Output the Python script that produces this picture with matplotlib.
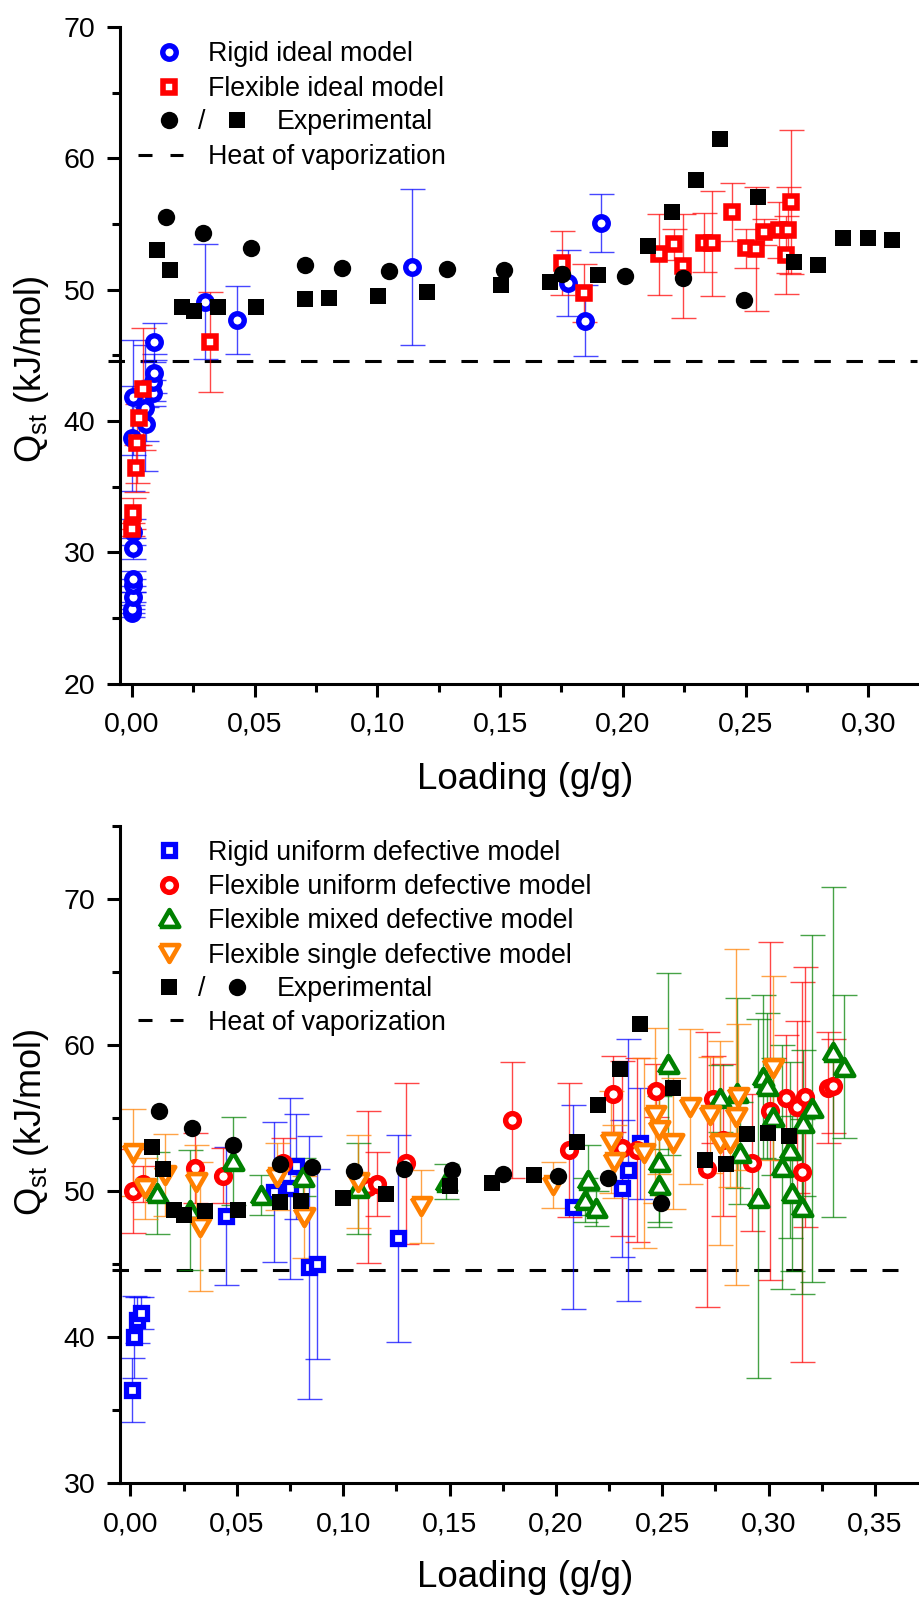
import matplotlib
matplotlib.use('Agg')
import matplotlib.pyplot as plt
from matplotlib.ticker import MultipleLocator, FuncFormatter

plt.rcParams['font.family'] = ['Liberation Sans', 'DejaVu Sans']
plt.rcParams['mathtext.fontset'] = 'custom'
plt.rcParams['mathtext.rm'] = 'Liberation Sans'

# ---------------- data ----------------
heat_vap = 44.6

exp_circle_x = [0.0137, 0.0290, 0.0484, 0.0703, 0.0854, 0.1049, 0.1284, 0.1514, 0.1752, 0.2010, 0.2245, 0.2495]
exp_circle_y = [55.50, 54.35, 53.17, 51.87, 51.69, 51.40, 51.54, 51.47, 51.20, 51.07, 50.91, 49.20]
exp_square_x = [0.0103, 0.0155, 0.0205, 0.0254, 0.0352, 0.0505, 0.0703, 0.0802, 0.1001, 0.1201, 0.1502, 0.1702,
                0.1899, 0.2101, 0.2199, 0.2299, 0.2397, 0.2550, 0.2699, 0.2797, 0.2898, 0.2999, 0.3097]
exp_square_y = [53.05, 51.50, 48.72, 48.38, 48.67, 48.72, 49.27, 49.34, 49.52, 49.79, 50.38, 50.58,
                51.10, 53.35, 55.89, 58.35, 61.45, 57.08, 52.13, 51.88, 53.91, 53.96, 53.78]

# top panel
rigid_ideal_x = [0.0001, 0.0001, 0.0002, 0.0002, 0.0002, 0.0004, 0.0005, 0.0001, 0.0005, 0.0053, 0.0057,
                 0.0084, 0.0087, 0.0091, 0.0091, 0.0297, 0.0427, 0.1141, 0.1776, 0.1846, 0.1909]
rigid_ideal_y = [25.35, 25.70, 26.60, 27.50, 28.00, 30.30, 31.57, 38.68, 41.80, 40.97, 39.80,
                 42.16, 43.00, 43.63, 46.04, 49.10, 47.70, 51.75, 50.49, 47.64, 55.06]
rigid_ideal_err = [0.3, 0.3, 0.4, 0.5, 0.6, 0.8, 1.0, 4.0, 4.4, 4.8, 1.3,
                   1.0, 1.5, 1.5, 1.4, 4.4, 2.6, 5.95, 2.5, 2.7, 2.2]

flex_ideal_x = [0.0001, 0.0005, 0.0014, 0.0019, 0.0030, 0.0044, 0.0318, 0.1752, 0.1843, 0.2147, 0.2210,
                0.2245, 0.2330, 0.2365, 0.2446, 0.2501, 0.2544, 0.2575, 0.2638, 0.2663, 0.2673, 0.2687]
flex_ideal_y = [31.75, 32.97, 36.40, 38.30, 40.20, 42.41, 46.04, 52.01, 49.77, 52.69, 53.46,
                51.83, 53.58, 53.53, 55.94, 53.15, 53.10, 54.42, 54.55, 52.64, 54.55, 56.70]
flex_ideal_err = [0.5, 1.2, 1.8, 3.0, 2.0, 4.65, 3.8, 2.45, 2.2, 3.1, 1.2,
                  3.95, 2.25, 4.0, 2.2, 1.5, 4.7, 1.0, 2.1, 3.0, 3.3, 5.5]

# bottom panel
rigid_unif_x = [0.0008, 0.0016, 0.0030, 0.0049, 0.0450, 0.0674, 0.0750, 0.0780, 0.0842, 0.0877,
                0.1260, 0.2082, 0.2309, 0.2340, 0.2395]
rigid_unif_y = [36.39, 40.00, 41.18, 41.69, 48.31, 49.97, 50.20, 51.70, 44.80, 45.00,
                46.78, 48.94, 50.20, 51.46, 53.30]
rigid_unif_err = [2.2, 2.8, 1.6, 1.1, 4.7, 4.8, 6.2, 3.6, 9.0, 6.5,
                  7.1, 7.0, 4.7, 9.0, 3.8]

flex_unif_x = [0.0011, 0.0058, 0.0304, 0.0434, 0.0716, 0.1119, 0.1161, 0.1296, 0.1792, 0.2062, 0.2267,
               0.2309, 0.2380, 0.2470, 0.2709, 0.2740, 0.2784, 0.2920, 0.3006, 0.3081, 0.3131, 0.3155,
               0.3170, 0.3280, 0.3304]
flex_unif_y = [50.02, 50.50, 51.57, 51.07, 51.92, 50.30, 50.48, 51.92, 54.88, 52.83, 56.64,
               52.95, 52.83, 56.89, 51.50, 56.30, 53.50, 51.96, 55.50, 56.41, 55.75, 51.34,
               56.44, 57.10, 57.20]
flex_unif_err = [2.9, 1.2, 2.4, 1.9, 1.7, 5.2, 2.2, 5.5, 4.0, 4.6, 2.6,
                 6.0, 6.3, 1.8, 9.4, 3.0, 5.2, 4.7, 11.6, 4.3, 5.9, 13.0,
                 8.9, 3.8, 3.2]

flex_mixed_x = [0.0127, 0.0281, 0.0484, 0.0613, 0.0813, 0.1071, 0.1484, 0.2137, 0.2152, 0.2188, 0.2486,
                0.2486, 0.2528, 0.2771, 0.2853, 0.2865, 0.2951, 0.2974, 0.2990, 0.3021, 0.3061, 0.3100,
                0.3108, 0.3155, 0.3162, 0.3202, 0.3304, 0.3354]
flex_mixed_y = [49.90, 48.72, 52.07, 49.75, 51.00, 50.20, 50.66, 49.40, 50.77, 48.84, 52.03,
                50.43, 58.72, 56.37, 56.71, 52.60, 49.52, 57.85, 57.20, 55.10, 51.69, 52.83,
                49.86, 48.94, 54.66, 55.68, 59.56, 58.53]
flex_mixed_err = [2.8, 4.1, 3.0, 1.35, 1.3, 3.1, 1.2, 1.5, 2.4, 1.2, 4.5,
                  2.5, 6.2, 2.3, 6.5, 3.5, 12.3, 5.6, 5.0, 4.0, 8.35, 6.0,
                  5.3, 6.0, 5.0, 11.9, 11.3, 4.9]

flex_single_x = [0.0011, 0.0069, 0.0163, 0.0307, 0.0328, 0.0691, 0.0816, 0.1071, 0.1365, 0.1988, 0.2259,
                 0.2274, 0.2415, 0.2466, 0.2486, 0.2549, 0.2630, 0.2724, 0.2771, 0.2818, 0.2846, 0.2857,
                 0.3021]
flex_single_y = [52.65, 50.20, 51.10, 50.66, 47.58, 51.00, 48.26, 50.66, 48.99, 50.43, 53.40,
                 52.03, 52.60, 55.20, 54.20, 53.29, 55.80, 55.23, 53.29, 53.29, 55.10, 56.48,
                 58.42]
flex_single_err = [3.0, 2.1, 2.8, 2.5, 4.4, 2.3, 2.8, 3.2, 2.5, 1.6, 3.5,
                   2.5, 6.5, 6.0, 3.0, 4.5, 5.3, 4.0, 7.0, 3.0, 11.5, 5.0,
                   6.3]

top_xlim = (-0.0048, 0.3211)
top_ylim = (20, 70)
bot_xlim = (-0.0047, 0.3711)
bot_ylim = (30, 75)

# ---------------- styles ----------------
BLUE = (0, 0, 1)
RED = (1, 0, 0)
GREEN = (0, 0.5, 0)
ORANGE = (1, 0.5, 0)

TRI_UP = [(-1, -0.866), (1, -0.866), (0, 0.866), (-1, -0.866)]
TRI_DN = [(-1, 0.866), (1, 0.866), (0, -0.866), (-1, 0.866)]
TRI_MS, TRI_MEW = 14.0, 3.3

W, H = 920.0, 1597.0
fig = plt.figure(figsize=(9.2, 15.97), dpi=100)


def rect(l, r, t, b):
    return [l / W, 1 - b / H, (r - l) / W, (b - t) / H]


TOP = (120.3, 920, 27.1, 683.6)
BOT = (120.3, 920, 826.3, 1483.3)
ax1 = fig.add_axes(rect(*TOP))
ax2 = fig.add_axes(rect(*BOT))

fmt_comma = FuncFormatter(lambda v, p: f'{v + 0:.2f}'.replace('.', ','))


def style(ax, xlim, ylim):
    ax.set_xlim(*xlim)
    ax.set_ylim(*ylim)
    for s in ['top', 'right']:
        ax.spines[s].set_visible(False)
    for s in ['left', 'bottom']:
        ax.spines[s].set_linewidth(2.2)
    ax.xaxis.set_major_locator(MultipleLocator(0.05))
    ax.xaxis.set_minor_locator(MultipleLocator(0.025))
    ax.yaxis.set_major_locator(MultipleLocator(10))
    ax.yaxis.set_minor_locator(MultipleLocator(5))
    ax.xaxis.set_major_formatter(fmt_comma)
    ax.tick_params(which='major', direction='out', length=9.6, width=2.2, labelsize=20.5)
    ax.tick_params(which='minor', direction='out', length=5.5, width=2.2)
    ax.tick_params(axis='x', which='major', pad=10.5)
    ax.tick_params(axis='y', which='major', pad=8.2)
    ax.set_facecolor('none')


style(ax1, top_xlim, top_ylim)
style(ax2, bot_xlim, bot_ylim)

EB = dict(fmt='none', elinewidth=1.0, capsize=9, capthick=1.0, zorder=2)


def series(ax, x, y, err, color, marker, ms, mew, z):
    ax.errorbar(x, y, yerr=err, ecolor=color + (0.72,), **EB)
    ax.plot(x, y, ls='none', marker=marker, ms=ms, mew=mew, mfc='white', mec=color, zorder=z)


def experimental(ax, z=10):
    ax.plot(exp_square_x, exp_square_y, ls='none', marker='s', ms=11.0, mew=0, color='black', zorder=z)
    ax.plot(exp_circle_x, exp_circle_y, ls='none', marker='o', ms=12.5, mew=0, color='black', zorder=z)


# heat of vaporization lines (unclipped like the original)
ax1.plot([-0.0098, 0.3197], [heat_vap, heat_vap], color='black', lw=2.2, ls=(0, (5.4, 5.1)),
         clip_on=False, zorder=1)
ax2.plot([-0.0088, 0.3606], [heat_vap, heat_vap], color='black', lw=2.2, ls=(0, (5.4, 5.1)),
         clip_on=False, zorder=1)

# top panel
series(ax1, rigid_ideal_x, rigid_ideal_y, rigid_ideal_err, BLUE, 'o', 9.7, 3.9, 4)
series(ax1, flex_ideal_x, flex_ideal_y, flex_ideal_err, RED, 's', 8.2, 4.0, 5)
experimental(ax1)

# bottom panel
series(ax2, rigid_unif_x, rigid_unif_y, rigid_unif_err, BLUE, 's', 8.4, 3.8, 4)
series(ax2, flex_unif_x, flex_unif_y, flex_unif_err, RED, 'o', 9.9, 3.9, 5)
series(ax2, flex_mixed_x, flex_mixed_y, flex_mixed_err, GREEN, TRI_UP, TRI_MS, TRI_MEW, 6)
series(ax2, flex_single_x, flex_single_y, flex_single_err, ORANGE, TRI_DN, TRI_MS, TRI_MEW, 7)
experimental(ax2)


# ---------------- legends (drawn in pixel positions) ----------------
def to_ax(box, px, py):
    l, r, t, b = box
    return (px - l) / (r - l), (b - py) / (b - t)


def leg_marker(ax, box, px, py, **kw):
    fx, fy = to_ax(box, px, py)
    ax.plot([fx], [fy], transform=ax.transAxes, clip_on=False, ls='none', zorder=20, **kw)


def leg_text(ax, box, px, py, s, ha='left'):
    fx, fy = to_ax(box, px, py)
    ax.text(fx, fy, s, transform=ax.transAxes, fontsize=19.3, ha=ha, va='baseline', zorder=20)


def leg_dash(ax, box, py):
    for a, b in [(138, 152), (170, 183)]:
        fa, fy = to_ax(box, a, py)
        fb, _ = to_ax(box, b, py)
        ax.plot([fa, fb], [fy, fy], transform=ax.transAxes, color='black', lw=2.2,
                solid_capstyle='butt', clip_on=False, zorder=20)


MX, TX = 169, 208.3
# top legend
rows = [51.7, 86.7, 120.0, 154.5]
leg_marker(ax1, TOP, MX, rows[0], marker='o', ms=9.7, mew=3.9, mfc='white', mec=BLUE)
leg_text(ax1, TOP, TX, rows[0] + 9.3, 'Rigid ideal model')
leg_marker(ax1, TOP, MX, rows[1], marker='s', ms=8.2, mew=4.0, mfc='white', mec=RED)
leg_text(ax1, TOP, TX, rows[1] + 9.3, 'Flexible ideal model')
leg_marker(ax1, TOP, MX, rows[2], marker='o', ms=12.5, mew=0, color='black')
leg_text(ax1, TOP, 201.7, rows[2] + 9.3, '/', ha='center')
leg_marker(ax1, TOP, 237, rows[2], marker='s', ms=11.0, mew=0, color='black')
leg_text(ax1, TOP, 276.7, rows[2] + 9.3, 'Experimental')
leg_dash(ax1, TOP, rows[3])
leg_text(ax1, TOP, TX, rows[3] + 9.3, 'Heat of vaporization')

# bottom legend
rows = [850.0, 885.0, 918.3, 953.3, 986.7, 1020.0]
leg_marker(ax2, BOT, MX, rows[0], marker='s', ms=8.4, mew=3.8, mfc='white', mec=BLUE)
leg_text(ax2, BOT, TX, rows[0] + 9.5, 'Rigid uniform defective model')
leg_marker(ax2, BOT, MX, rows[1], marker='o', ms=9.9, mew=3.9, mfc='white', mec=RED)
leg_text(ax2, BOT, TX, rows[1] + 9.5, 'Flexible uniform defective model')
leg_marker(ax2, BOT, MX, rows[2], marker=TRI_UP, ms=TRI_MS, mew=TRI_MEW, mfc='white', mec=GREEN)
leg_text(ax2, BOT, TX, rows[2] + 9.5, 'Flexible mixed defective model')
leg_marker(ax2, BOT, MX, rows[3], marker=TRI_DN, ms=TRI_MS, mew=TRI_MEW, mfc='white', mec=ORANGE)
leg_text(ax2, BOT, TX, rows[3] + 9.5, 'Flexible single defective model')
leg_marker(ax2, BOT, MX, rows[4], marker='s', ms=11.0, mew=0, color='black')
leg_text(ax2, BOT, 201.7, rows[4] + 9.5, '/', ha='center')
leg_marker(ax2, BOT, 237, rows[4], marker='o', ms=12.5, mew=0, color='black')
leg_text(ax2, BOT, 276.7, rows[4] + 9.5, 'Experimental')
leg_dash(ax2, BOT, rows[5])
leg_text(ax2, BOT, TX, rows[5] + 9.5, 'Heat of vaporization')

# ---------------- axis labels ----------------
ylab = r'Q$_\mathregular{st}$ (kJ/mol)'
fig.text(31.6 / W, 1 - 369 / H, ylab, rotation=90, ha='center', va='center', fontsize=26)
fig.text(31.6 / W, 1 - 1122 / H, ylab, rotation=90, ha='center', va='center', fontsize=26)
fig.text(525 / W, 1 - 789 / H, 'Loading (g/g)', ha='center', va='baseline', fontsize=26.5)
fig.text(525 / W, 1 - 1586.7 / H, 'Loading (g/g)', ha='center', va='baseline', fontsize=26.5)

fig.savefig('out.png', dpi=100)
